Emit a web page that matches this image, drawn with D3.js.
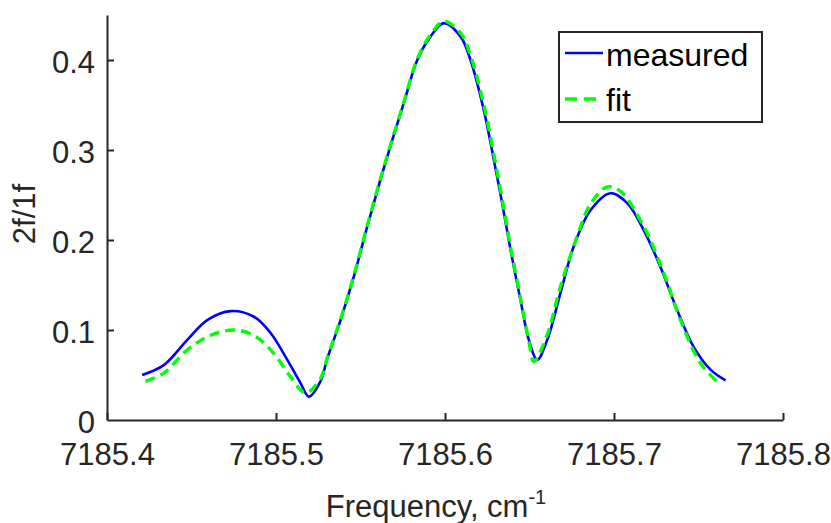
<!DOCTYPE html>
<html>
<head>
<meta charset="utf-8">
<script src="https://cdn.jsdelivr.net/npm/d3@7/dist/d3.min.js"></script>
<style>
  html, body { margin: 0; padding: 0; background: #fff; }
  svg { display: block; font-family: "Liberation Sans", Arial, Helvetica, sans-serif; }
</style>
</head>
<body>
<svg id="chart" width="831" height="523"></svg>
<script>
// ---- data ----
const measuredFreq = [7185.4208, 7185.4336, 7185.4475, 7185.4593, 7185.4731, 7185.4867, 7185.4967, 7185.5066,
  7185.5145, 7185.5194, 7185.5263, 7185.5303, 7185.5382, 7185.5460, 7185.5540, 7185.5618, 7185.5688, 7185.5756,
  7185.5836, 7185.5914, 7185.5993, 7185.6092, 7185.6151, 7185.6230, 7185.6289, 7185.6338, 7185.6388, 7185.6447,
  7185.6496, 7185.6546, 7185.6605, 7185.6683, 7185.6762, 7185.6861, 7185.6979, 7185.7078, 7185.7176, 7185.7275,
  7185.7374, 7185.7472, 7185.7571, 7185.7660];
const measuredVal = [0.050, 0.061, 0.089, 0.111, 0.121, 0.115, 0.097, 0.067,
  0.041, 0.026, 0.043, 0.068, 0.111, 0.159, 0.215, 0.267, 0.311, 0.352,
  0.400, 0.426, 0.441, 0.426, 0.400, 0.344, 0.289, 0.241, 0.189, 0.133,
  0.089, 0.067, 0.089, 0.141, 0.193, 0.233, 0.252, 0.241, 0.211, 0.170,
  0.122, 0.081, 0.056, 0.044];

const fitFreq = [7185.4228, 7185.4336, 7185.4475, 7185.4612, 7185.4750, 7185.4869, 7185.4987, 7185.5086,
  7185.5175, 7185.5263, 7185.5303, 7185.5382, 7185.5460, 7185.5540, 7185.5618, 7185.5688, 7185.5756,
  7185.5836, 7185.5914, 7185.5993, 7185.6092, 7185.6151, 7185.6230, 7185.6289, 7185.6338, 7185.6388,
  7185.6447, 7185.6496, 7185.6526, 7185.6605, 7185.6683, 7185.6782, 7185.6861, 7185.6960, 7185.7039,
  7185.7176, 7185.7295, 7185.7394, 7185.7512, 7185.7630];
const fitVal = [0.043, 0.052, 0.078, 0.094, 0.100, 0.094, 0.074, 0.048,
  0.030, 0.046, 0.069, 0.112, 0.160, 0.216, 0.268, 0.312, 0.353,
  0.401, 0.428, 0.443, 0.430, 0.405, 0.350, 0.295, 0.246, 0.192,
  0.135, 0.088, 0.065, 0.095, 0.148, 0.204, 0.240, 0.259, 0.254,
  0.215, 0.163, 0.111, 0.063, 0.039];

const xTicks = [7185.4, 7185.5, 7185.6, 7185.7, 7185.8];
const xTickLabels = ["7185.4", "7185.5", "7185.6", "7185.7", "7185.8"];
const yTicks = [0, 0.1, 0.2, 0.3, 0.4];
const yTickLabels = ["0", "0.1", "0.2", "0.3", "0.4"];
const seriesNames = ["measured", "fit"];
const xDomain = [7185.4, 7185.8];
const yDomain = [0, 0.45];

// ---- layout ----
const svg = d3.select("#chart");
const plotL = 107, plotR = 783, plotT = 15, plotB = 420;
const axisColor = "#262626";
const fontSize = 31;
const fontFam = "'Liberation Sans', Arial, sans-serif";

const x = d3.scaleLinear().domain(xDomain).range([plotL, plotR]);
const y = d3.scaleLinear().domain(yDomain).range([plotB, plotT]);

const line = d3.line().x(d => x(d[0])).y(d => y(d[1])).curve(d3.curveCatmullRom.alpha(0.5));

const measured = measuredFreq.map((f, i) => [f, measuredVal[i]]);
const fit = fitFreq.map((f, i) => [f, fitVal[i]]);

svg.append("path").datum(measured)
  .attr("d", line).attr("fill", "none")
  .attr("stroke", "#0000ff").attr("stroke-width", 2.6);

svg.append("path").datum(fit)
  .attr("d", line).attr("fill", "none")
  .attr("stroke", "#00ff00").attr("stroke-width", 3.4)
  .attr("stroke-dasharray", "10,6");

// x axis
const xAxis = d3.axisBottom(x).tickValues(xTicks)
  .tickFormat((d, i) => xTickLabels[i]).tickSizeInner(-7).tickSizeOuter(0);
const gx = svg.append("g").attr("transform", `translate(0,${plotB})`).call(xAxis);
gx.select(".domain").attr("stroke", axisColor).attr("stroke-width", 2);
gx.selectAll(".tick line").attr("stroke", axisColor).attr("stroke-width", 2);
gx.selectAll(".tick text").attr("y", 45).attr("dy", null)
  .attr("fill", axisColor).style("font-size", fontSize + "px")
  .style("font-family", fontFam);

// y axis
const yAxis = d3.axisLeft(y).tickValues(yTicks)
  .tickFormat((d, i) => yTickLabels[i]).tickSizeInner(-7).tickSizeOuter(0);
const gy = svg.append("g").attr("transform", `translate(${plotL},0)`).call(yAxis);
gy.select(".domain").attr("stroke", axisColor).attr("stroke-width", 2);
gy.selectAll(".tick line").attr("stroke", axisColor).attr("stroke-width", 2);
gy.selectAll(".tick text").attr("x", -12).attr("dy", "0.4em")
  .attr("fill", axisColor).style("font-size", fontSize + "px")
  .style("font-family", fontFam);
gy.selectAll(".tick").filter(d => d === 0).select("line").remove();

// axis labels
const xl = svg.append("text")
  .attr("x", 436).attr("y", 517)
  .attr("text-anchor", "middle")
  .attr("fill", axisColor).style("font-size", fontSize + "px");
xl.append("tspan").text("Frequency, cm");
xl.append("tspan").attr("dy", -13).style("font-size", "20px").text("-1");

svg.append("text")
  .attr("transform", "translate(35,214) rotate(-90)")
  .attr("text-anchor", "middle")
  .attr("fill", axisColor).style("font-size", fontSize + "px")
  .text("2f/1f");

// legend
const lg = svg.append("g");
lg.append("rect").attr("x", 559).attr("y", 32).attr("width", 203).attr("height", 90)
  .attr("fill", "#fff").attr("stroke", axisColor).attr("stroke-width", 2);
lg.append("line").attr("x1", 565).attr("x2", 603).attr("y1", 53).attr("y2", 53)
  .attr("stroke", "#0000ff").attr("stroke-width", 2.6);
lg.append("line").attr("x1", 565).attr("x2", 603).attr("y1", 99).attr("y2", 99)
  .attr("stroke", "#00ff00").attr("stroke-width", 3.4).attr("stroke-dasharray", "12,7");
lg.append("text").attr("x", 606).attr("y", 66).attr("fill", "#000")
  .style("font-size", "32px").text(seriesNames[0]);
lg.append("text").attr("x", 606).attr("y", 111).attr("fill", "#000")
  .style("font-size", "32px").text(seriesNames[1]);
</script>
</body>
</html>
